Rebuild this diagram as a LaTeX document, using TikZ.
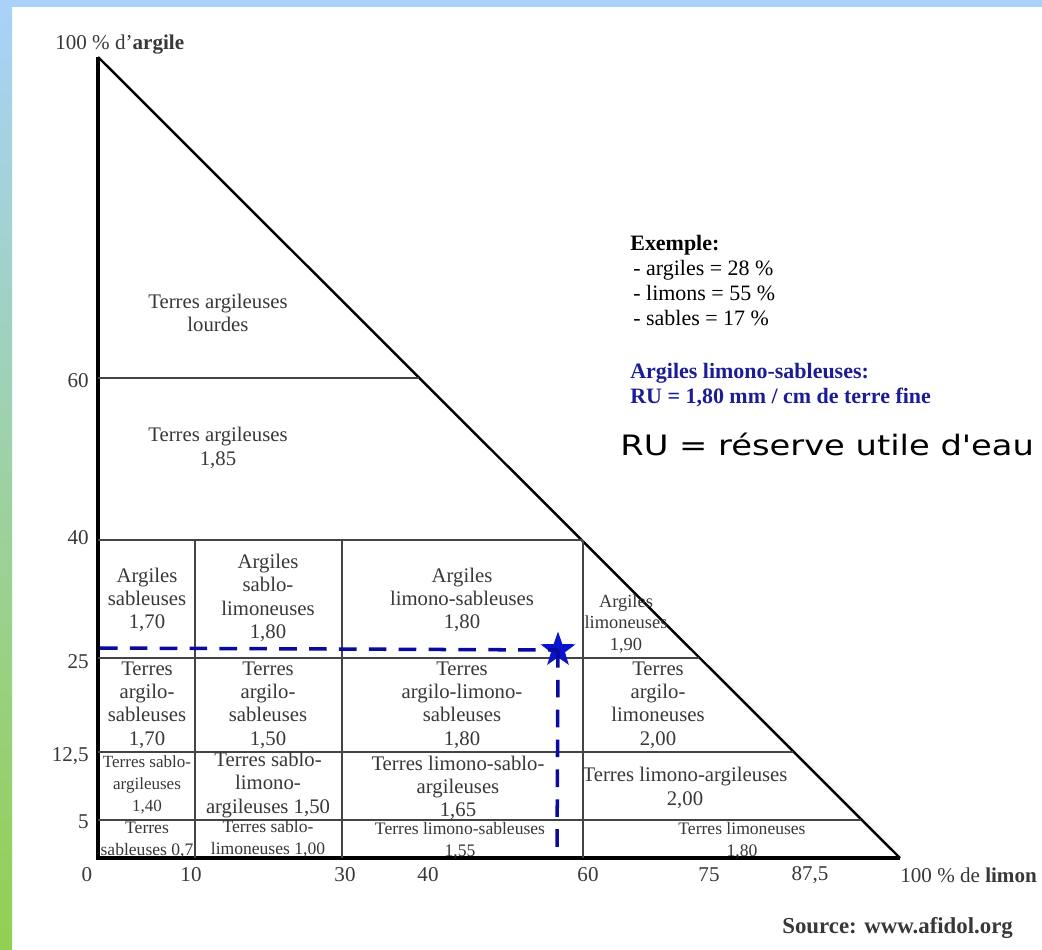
\documentclass[tikz,border=0pt]{standalone}
\usepackage{fontspec}
\setmainfont{Liberation Serif}
\newfontfamily\rufont[FakeStretch=1.2]{DejaVu Sans}
\usetikzlibrary{shapes.geometric}

\definecolor{cadre}{HTML}{A8D2FA}
\definecolor{vert}{HTML}{92D050}
\definecolor{texte}{HTML}{383838}
\definecolor{bleu}{HTML}{1C1C96}
\definecolor{pointille}{HTML}{0A0AA0}
\definecolor{etoile}{HTML}{0A14C8}
\definecolor{trait}{HTML}{444444}

\tikzset{
  zone/.style={align=center, text=texte, inner sep=0pt, font=\fontsize{11.8}{13.3}\selectfont},
  petite/.style={zone, font=\fontsize{10}{12.5}\selectfont},
  graduation/.style={text=texte, inner sep=0pt, font=\fontsize{12}{14}\selectfont},
  ligne/.style={draw=trait, line width=0.8pt},
  repere/.style={draw=pointille, line width=2pt, dash pattern=on 10pt off 7pt},
  exemple/.style={anchor=base west, inner sep=0pt, font=\fontsize{12.5}{15}\selectfont}
}

\begin{document}
\begin{tikzpicture}[x=0.02cm, y=-0.02cm]
\useasboundingbox (0,0) rectangle (1042,950);
% fond et bordure
\fill[white] (0,0) rectangle (1042,950);
\fill[cadre] (0,0) rectangle (1042,7);
\shade[top color=cadre, bottom color=vert] (0,0) rectangle (12,950);

% triangle
\coordinate (apex) at (98,57);
\coordinate (origine) at (98,858);
\coordinate (coin) at (900,858);
\draw[line width=1.4pt] (apex) -- (coin);
\draw[line width=1.8pt] (apex) -- (origine) -- (coin);

% lignes des classes
\draw[ligne] (98,378) -- (419,378);
\draw[ligne] (98,540) -- (583,540);
\draw[ligne] (98,658) -- (699,658);
\draw[ligne] (98,752) -- (793,752);
\draw[ligne] (98,820) -- (861,820);
\draw[ligne] (195,540) -- (195,858);
\draw[ligne] (342,540) -- (342,858);
\draw[ligne] (583,540) -- (583,858);

% graduations
\node[graduation, anchor=east] (g60) at (89,381) {60};
\node[graduation, anchor=east] (g40) at (89,538) {40};
\node[graduation, anchor=east] (g25) at (89,662) {25};
\node[graduation, anchor=east] (g12) at (89,756) {12,5};
\node[graduation, anchor=east] (g5) at (89,822) {5};
\node[graduation] (g0) at (87,875) {0};
\node[graduation] (h10) at (191,875) {10};
\node[graduation] (h30) at (345,875) {30};
\node[graduation] (h40) at (428,875) {40};
\node[graduation] (h60) at (588,875) {60};
\node[graduation] (h75) at (709,875) {75};
\node[graduation] (h87) at (810,875) {87,5};
\node[graduation, anchor=west] (limon) at (900,875) {100 \% de \textbf{limon}};
\node[graduation, anchor=west] (argile) at (55,45) {100 \% d'\textbf{argile}};

% classes de texture
\node[zone] (lourdes) at (218,313) {Terres argileuses\\lourdes};
\node[zone] (argileuses) at (218,448) {Terres argileuses\\1,85};
\node[zone] (asab) at (147,600) {Argiles\\sableuses\\1,70};
\node[zone] (asablim) at (268,598) {Argiles\\sablo-\\limoneuses\\1,80};
\node[zone] (alimsab) at (462,600) {Argiles\\limono-sableuses\\1,80};
\node[zone, font=\fontsize{10.5}{12.5}\selectfont] (alim) at (626,624) {Argiles\\limoneuses\\1,90};
\node[zone] (tasab) at (147,705) {Terres\\argilo-\\sableuses\\1,70};
\node[zone] (tasab2) at (268,705) {Terres\\argilo-\\sableuses\\1,50};
\node[zone] (talimsab) at (462,705) {Terres\\argilo-limono-\\sableuses\\1,80};
\node[zone] (talim) at (658,705) {Terres\\argilo-\\limoneuses\\2,00};
\node[petite, font=\fontsize{9.7}{12.7}\selectfont] (tsabarg) at (147,785) {Terres sablo-\\argileuses\\1,40};
\node[zone] (tsablimarg) at (268,785) {Terres sablo-\\limono-\\argileuses 1,50};
\node[zone] (tlimsabarg) at (458,788) {Terres limono-sablo-\\argileuses\\1,65};
\node[zone] (tlimarg) at (685,788) {Terres limono-argileuses\\2,00};
\node[petite] (tsab) at (147,840) {Terres\\sableuses 0,7};
\node[petite] (tsablim) at (268,839) {Terres sablo-\\limoneuses 1,00};
\node[petite] (tlimsab) at (460,841) {Terres limono-sableuses\\1,55};
\node[petite] (tlim) at (742,841) {Terres limoneuses\\1,80};

% exemple
\node[star, star points=5, star point ratio=2.5, fill=etoile, inner sep=0pt, minimum size=21pt] (ex) at (558,650) {};
\coordinate (exg) at (100,648);
\coordinate (exb) at (557,858);
\draw[repere] (exg) -- (ex.center);
\draw[repere] (ex.center) -- (exb);

\node[exemple, font=\bfseries\fontsize{12.5}{15}\selectfont] (titre) at (630,250) {Exemple:};
\node[exemple] (ex1) at (633,275) {- argiles = 28 \%};
\node[exemple] (ex2) at (633,300) {- limons = 55 \%};
\node[exemple] (ex3) at (633,325) {- sables = 17 \%};
\node[exemple, text=bleu, font=\bfseries\fontsize{12.5}{15}\selectfont] (classe) at (630,378) {Argiles limono-sableuses:};
\node[exemple, text=bleu, font=\bfseries\fontsize{12.5}{15}\selectfont] (ru) at (630,403) {RU = 1,80 mm / cm de terre fine};
\node[anchor=base west, inner sep=0pt, font=\rufont\fontsize{16}{19}\selectfont] (def) at (620,455) {RU = réserve utile d'eau};
\node[anchor=base west, inner sep=0pt, text=texte, font=\bfseries\fontsize{13}{15}\selectfont] (source) at (782,933) {Source: www.afidol.org};
\end{tikzpicture}
\end{document}
